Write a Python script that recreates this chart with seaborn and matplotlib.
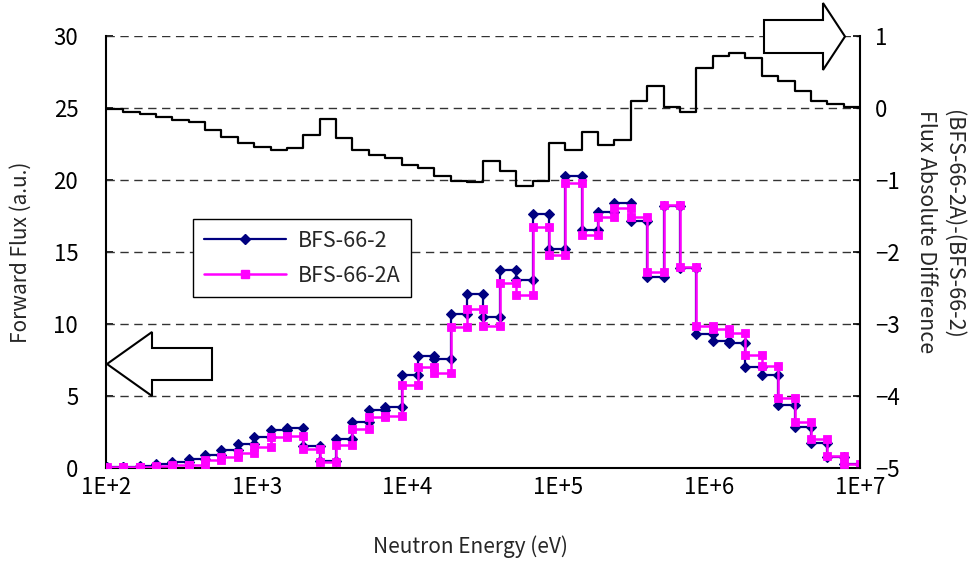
import matplotlib
matplotlib.use("Agg")
import matplotlib.pyplot as plt
from matplotlib.patches import Polygon
from matplotlib.lines import Line2D
from matplotlib.transforms import Affine2D
from matplotlib.ticker import NullLocator
import seaborn as sns

# Energy group boundaries (eV), ascending, 0.25-lethargy structure
group_bounds = [101.3, 130.1, 167.0, 214.5, 275.4, 353.6, 454.0, 583.0, 748.5, 961.1,
                1234, 1585, 2035, 2613, 3355, 4307, 5531, 7102, 9119,
                11709, 15034, 19305, 24788, 31828, 40868, 52475, 67379, 86517,
                111090, 142640, 183160, 235180, 301970, 387740, 497870, 639280, 820850,
                1054000, 1353400, 1737700, 2231300, 2865000, 3678800, 4723700, 6065300,
                7788000, 10000000]

# Group forward flux (a.u.), lowest energy group first
flux_bfs66_2 = [0.06, 0.10, 0.17, 0.28, 0.45, 0.60, 0.92, 1.28, 1.70, 2.13,
                2.67, 2.80, 1.55, 0.51, 1.99, 3.22, 4.03, 4.25, 6.48, 7.76,
                7.55, 10.69, 12.08, 10.51, 13.72, 13.03, 17.66, 15.19, 20.28, 16.53,
                17.80, 18.38, 17.15, 13.24, 18.20, 13.87, 9.31, 8.85, 8.66, 7.04,
                6.46, 4.38, 2.87, 1.76, 0.79, 0.25]
flux_bfs66_2a = [0.04, 0.06, 0.10, 0.14, 0.19, 0.24, 0.55, 0.78, 1.05, 1.48,
                 2.13, 2.20, 1.30, 0.42, 1.60, 2.69, 3.52, 3.61, 5.74, 7.02,
                 6.57, 9.77, 11.02, 9.86, 12.82, 12.01, 16.76, 14.79, 19.77, 16.18,
                 17.41, 18.03, 17.41, 13.63, 18.26, 13.94, 9.88, 9.62, 9.35, 7.82,
                 7.08, 4.88, 3.22, 1.99, 0.86, 0.30]
# Absolute difference (BFS-66-2A)-(BFS-66-2), right axis
flux_diff = [-0.02, -0.06, -0.09, -0.12, -0.17, -0.20, -0.31, -0.40, -0.48, -0.54,
             -0.58, -0.56, -0.37, -0.15, -0.42, -0.59, -0.65, -0.69, -0.79, -0.84,
             -0.95, -1.01, -1.03, -0.73, -0.87, -1.08, -1.01, -0.48, -0.58, -0.34,
             -0.51, -0.44, 0.10, 0.30, 0.02, -0.06, 0.55, 0.72, 0.77, 0.69,
             0.44, 0.38, 0.24, 0.10, 0.05, 0.02]

x_ticks = [1e2, 1e3, 1e4, 1e5, 1e6, 1e7]
x_tick_labels = ["1E+2", "1E+3", "1E+4", "1E+5", "1E+6", "1E+7"]
left_ticks = [0, 5, 10, 15, 20, 25, 30]
right_ticks = [-5, -4, -3, -2, -1, 0, 1]
right_tick_labels = ["\u22125", "\u22124", "\u22123", "\u22122", "\u22121", "0", "1"]

NAVY = "#000080"
MAGENTA = "#FF00FF"


def histogram_steps(values):
    """Turn group values into a step outline with a vertex at each group edge."""
    xs, ys = [], []
    for lo, hi, v in zip(group_bounds[:-1], group_bounds[1:], values):
        xs += [lo, hi]
        ys += [v, v]
    return xs, ys


sns.set_style("white")
plt.rcParams["font.family"] = ["Noto Sans CJK JP", "DejaVu Sans"]
plt.rcParams["axes.unicode_minus"] = True

W, H = 970, 567
fig = plt.figure(figsize=(W / 100, H / 100), dpi=100)
ax = fig.add_axes([106 / W, 1 - 468 / H, 754 / W, 432 / H])
ax.set_xscale("log")
ax2 = ax.twinx()

# flux spectra
xs, ys = histogram_steps(flux_bfs66_2)
sns.lineplot(x=xs, y=ys, ax=ax, sort=False, estimator=None, color=NAVY,
             linewidth=1.6, marker="D", markersize=5.2, markerfacecolor=NAVY,
             markeredgecolor=NAVY, markeredgewidth=0.8, legend=False, zorder=3)
xs, ys = histogram_steps(flux_bfs66_2a)
sns.lineplot(x=xs, y=ys, ax=ax, sort=False, estimator=None, color=MAGENTA,
             linewidth=1.8, marker="s", markersize=6.3, markerfacecolor=MAGENTA,
             markeredgecolor=MAGENTA, markeredgewidth=0.6, legend=False, zorder=4)

# difference on the secondary axis
xs, ys = histogram_steps(flux_diff)
sns.lineplot(x=xs, y=ys, ax=ax2, sort=False, estimator=None, color="black",
             linewidth=1.6, legend=False)

ax.set_xlim(1e2, 1e7)
ax.set_ylim(0, 30)
ax2.set_ylim(-5, 1)

ax.set_xticks(x_ticks)
ax.set_xticklabels(x_tick_labels)
ax.xaxis.set_minor_locator(NullLocator())
ax.set_yticks(left_ticks)
ax.set_yticklabels([str(t) for t in left_ticks])
ax2.set_yticks(right_ticks)
ax2.set_yticklabels(right_tick_labels)

ax.grid(False)
ax2.grid(False)
for t in left_ticks[1:]:
    ax.axhline(t, color="#333333", linewidth=1.0, linestyle=(0, (6, 4)), zorder=1)

for a in (ax, ax2):
    a.spines["top"].set_visible(False)
ax.spines["right"].set_visible(False)
ax2.spines["left"].set_visible(False)
ax2.spines["bottom"].set_visible(False)
for name in ("left", "bottom"):
    ax.spines[name].set_color("black")
    ax.spines[name].set_linewidth(1.5)
ax2.spines["right"].set_color("black")
ax2.spines["right"].set_linewidth(1.5)

ax.tick_params(axis="x", direction="in", length=6, width=1.2, labelsize=16, pad=6, colors="black")
ax.tick_params(axis="y", direction="in", length=5, width=1.2, labelsize=16, pad=20, colors="black")
ax2.tick_params(axis="y", direction="in", length=5, width=1.2, labelsize=16, pad=11, colors="black")

ax.set_xlabel("Neutron Energy (eV)", fontsize=15)
ax.xaxis.set_label_coords((470 - 106) / 754, (468 - 535) / 432)
ax.set_ylabel("Forward Flux (a.u.)", fontsize=15)
ax.yaxis.set_label_coords((32 - 106) / 754, 0.5)
ax2.set_ylabel("")

fig.text(940 / W, 1 - 110 / H, "(BFS-66-2A)-(BFS-66-2)\nFlux Absolute Difference",
         rotation=-90, ha="center", va="top", multialignment="left",
         fontsize=15.5, linespacing=1.3)

handles = [
    Line2D([], [], color=NAVY, linewidth=1.6, marker="D", markersize=5.2,
           markerfacecolor=NAVY, markeredgecolor=NAVY),
    Line2D([], [], color=MAGENTA, linewidth=1.8, marker="s", markersize=6.3,
           markerfacecolor=MAGENTA, markeredgecolor=MAGENTA),
]
leg = ax.legend(handles, ["BFS-66-2", "BFS-66-2A"], loc="upper left",
                bbox_to_anchor=((193 - 106) / 754, (468 - 219) / 432),
                frameon=True, fancybox=False, framealpha=1, edgecolor="black",
                fontsize=15.5, handlelength=3.8, borderpad=0.5, labelspacing=0.6,
                handletextpad=0.55, borderaxespad=0)
leg.get_frame().set_linewidth(1.0)

# direction arrows (pixel coordinates, origin top-left)
px = Affine2D().scale(1 / W, -1 / H).translate(0, 1) + fig.transFigure
left_arrow = [(107, 364), (152, 332), (152, 348), (212, 348), (212, 380), (152, 380), (152, 396)]
right_arrow = [(845, 36.5), (823, 3), (823, 20), (764, 20), (764, 53), (823, 53), (823, 70)]
for pts in (left_arrow, right_arrow):
    fig.add_artist(Polygon(pts, closed=True, facecolor="white", edgecolor="black",
                           linewidth=1.5, transform=px, zorder=5))

fig.savefig("out.png", dpi=100)
